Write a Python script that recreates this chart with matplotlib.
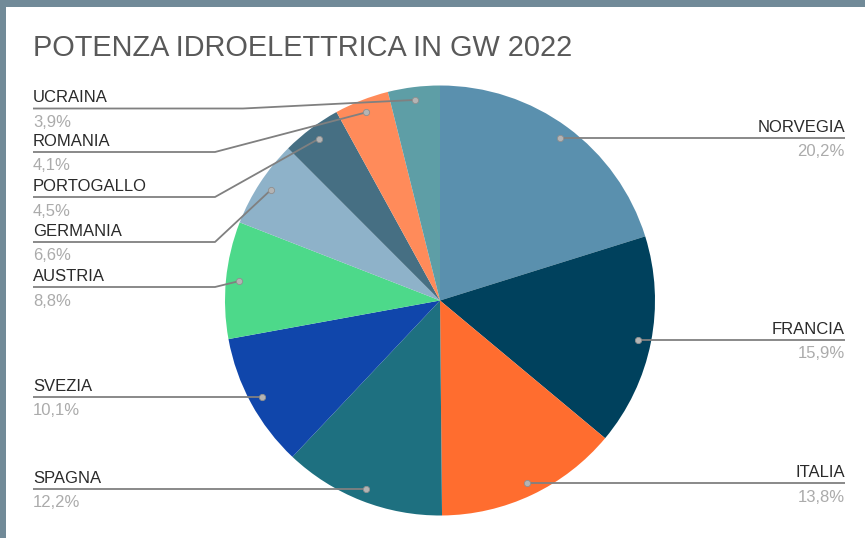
import numpy as np
import matplotlib
matplotlib.use("Agg")
import matplotlib.pyplot as plt
from matplotlib.patches import Rectangle

# ---- data ----
countries = ["NORVEGIA", "FRANCIA", "ITALIA", "SPAGNA", "SVEZIA",
             "AUSTRIA", "GERMANIA", "PORTOGALLO", "ROMANIA", "UCRAINA"]
shares = [20.2, 15.9, 13.8, 12.2, 10.1, 8.8, 6.6, 4.5, 4.1, 3.9]
title = "POTENZA IDROELETTRICA IN GW 2022"

# ---- styles / layout ----
colors = ["#5a90ae", "#00415d", "#ff6d2f", "#1e7080", "#1046ab",
          "#4dd98a", "#8eb2c9", "#466f83", "#ff8b5a", "#5e9ea6"]
W, H = 865, 538
font = "Liberation Sans"
# stacked left-label underline positions (pixel rows) for crowded labels
left_label_row = {"UCRAINA": 108.5, "ROMANIA": 152, "PORTOGALLO": 197,
                  "GERMANIA": 242, "AUSTRIA": 287}
left_elbow = {"UCRAINA": 243}

fig = plt.figure(figsize=(W / 100, H / 100), dpi=100)
fig.patch.set_facecolor("#718a98")
fig.patches.append(Rectangle((6 / W, 0), 1 - 6 / W, (H - 7) / H,
                             transform=fig.transFigure, facecolor="white",
                             edgecolor="none", zorder=-10))

ax = fig.add_axes([0, 0, 1, 1])
ax.set_facecolor("none")
ax.set_zorder(5)


def Y(y):
    return H - y


cx, cy, r = 440, 300.5, 215
wedges, _ = ax.pie(shares, colors=colors, startangle=90, counterclock=False,
                   center=(cx, Y(cy)), radius=r,
                   wedgeprops=dict(linewidth=0))
ax.set_xlim(0, W)
ax.set_ylim(0, H)
ax.set_aspect("equal")
ax.axis("off")

ax.text(33, Y(56), title, fontsize=20.8, color="#595959", family=font,
        va="baseline", ha="left")

total = sum(shares)
cum = 0.0
line_kw = dict(color="#808080", lw=1.3, solid_capstyle="butt", zorder=3)
for name, v in zip(countries, shares):
    mid = (cum + v / 2) / total * 2 * np.pi
    cum += v
    dx = 0.94 * r * np.sin(mid)
    dy = 0.94 * r * np.cos(mid)
    px, py = cx + dx, cy - dy  # pixel coords
    pct = f"{v:.1f}".replace(".", ",") + "%"
    if dx > 0:
        ly = py
        ax.plot([px, 845], [Y(ly), Y(ly)], **line_kw)
        tx, ha = 845, "right"
    else:
        ly = left_label_row.get(name, py)
        if name in left_label_row:
            ex = left_elbow.get(name, 215)
            ax.plot([33, ex, px], [Y(ly), Y(ly), Y(py)], **line_kw)
        else:
            ax.plot([33, px], [Y(ly), Y(ly)], **line_kw)
        tx, ha = 33, "left"
    ax.plot([px], [Y(py)], marker="o", markersize=4.5,
            markerfacecolor="#b4b4b4", markeredgecolor="#8f8f8f",
            markeredgewidth=0.6, zorder=4)
    ax.text(tx, Y(ly - 6), name, fontsize=12, color="#2a2a2a", family=font,
            ha=ha, va="baseline")
    ax.text(tx, Y(ly + 18.5), pct, fontsize=12, color="#ababab", family=font,
            ha=ha, va="baseline")

fig.savefig("out.png", dpi=100)
